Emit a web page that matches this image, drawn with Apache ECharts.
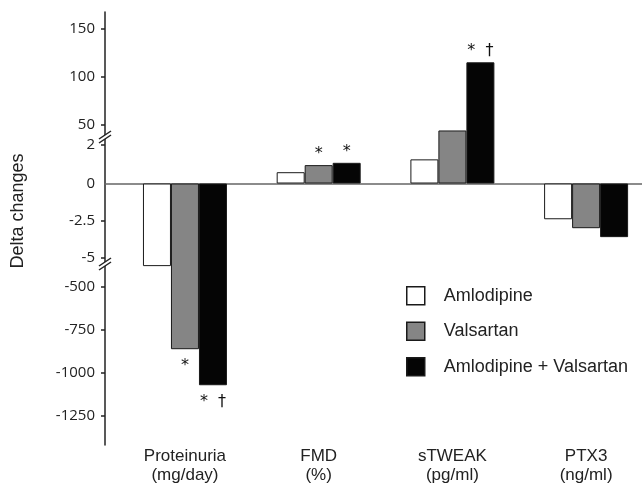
<!DOCTYPE html>
<html>
<head>
<meta charset="utf-8">
<script src="https://cdn.jsdelivr.net/npm/echarts@6/dist/echarts.min.js"></script>
<style>
html, body { margin: 0; padding: 0; background: #fff; }
#chart { width: 642px; height: 488px; }
</style>
</head>
<body>
<div id="chart"></div>
<script>
const categories = ['Proteinuria', 'FMD', 'sTWEAK', 'PTX3']
const units = ['(mg/day)', '(%)', '(pg/ml)', '(ng/ml)']
const seriesNames = ['Amlodipine', 'Valsartan', 'Amlodipine + Valsartan']
const amlodipine = [-380, 0.59, 1.26, -2.4]
const valsartan = [-862, 0.96, 44, -3.0]
const combination = [-1071, 1.08, 115, -3.6]
// significance marks under / over each bar
const amlodipineNotes = ['', '', '', '']
const valsartanNotes = ['*', '*', '', '']
const combinationNotes = ['*  \u2020', '*', '*  \u2020', '']
const yTicks = [150, 100, 50, 2, 0, -2.5, -5, -500, -750, -1000, -1250]

// broken y axis: every piece has its own scale, axis units = px from the zero line
function toAxis(v) {
  if (v > 3) return Math.max(46.5, 58.8 + (v - 50) * 0.96)
  if (v >= 0) return v * 19.15
  if (v >= -6) return v * 14.9
  return Math.min(-81.5, -103.3 + (v + 500) * 0.1724)
}
const tickPos = yTicks.map(toAxis)

const chart = echarts.init(document.getElementById('chart'))

function barSeries(name, values, notes, color) {
  return {
    name: name,
    type: 'bar',
    xAxisIndex: 0,
    barWidth: 28,
    barGap: '0%',
    itemStyle: { color: color, borderColor: '#1a1a1a', borderWidth: 1 },
    label: {
      fontFamily: 'DejaVu Sans',
      fontSize: 16,
      color: '#111'
    },
    data: values.map((v, i) => ({
      value: [i, toAxis(v)],
      label: {
        show: notes[i] !== '',
        formatter: notes[i],
        position: v < 0 ? 'bottom' : 'top',
        distance: v < 0 ? 9 : 3
      }
    }))
  }
}

chart.setOption({
  animation: false,
  grid: { left: 105, right: 0, top: 12, bottom: 43 },
  legend: {
    orient: 'vertical',
    left: 401,
    top: 281,
    itemWidth: 18,
    itemHeight: 18,
    itemGap: 16,
    icon: 'rect',
    data: seriesNames,
    itemStyle: { borderWidth: 1.5 },
    textStyle: {
      fontFamily: 'Liberation Sans',
      fontSize: 18,
      color: '#222',
      padding: [0, 0, 0, 14]
    }
  },
  xAxis: [
    {
      type: 'value',
      min: -0.598,
      max: 3.418,
      axisLine: { onZero: true, lineStyle: { color: '#666', width: 1.5 } },
      axisTick: { show: false },
      axisLabel: { show: false },
      splitLine: { show: false }
    },
    {
      type: 'value',
      min: -0.598,
      max: 3.418,
      position: 'bottom',
      axisLine: { show: false, onZero: false },
      axisTick: { show: false },
      splitLine: { show: false },
      axisLabel: {
        customValues: [0, 1, 2, 3],
        formatter: v => categories[v] + '\n' + units[v],
        fontFamily: 'Liberation Sans',
        fontSize: 17,
        lineHeight: 19,
        color: '#222',
        margin: 2
      }
    }
  ],
  yAxis: {
    type: 'value',
    min: -261.5,
    max: 171.5,
    axisLine: { show: true, onZero: false, lineStyle: { color: '#222', width: 1.5 } },
    axisTick: {
      show: true,
      length: 4,
      customValues: tickPos.filter((p, i) => yTicks[i] !== 0),
      lineStyle: { color: '#222', width: 1.5 }
    },
    splitLine: { show: false },
    axisLabel: {
      customValues: tickPos,
      formatter: val => {
        const i = tickPos.findIndex(p => Math.abs(p - val) < 0.01)
        return i >= 0 ? String(yTicks[i]) : ''
      },
      fontFamily: 'Open Sans',
      fontSize: 15,
      color: '#222',
      margin: 10
    }
  },
  graphic: [
    {
      type: 'text',
      x: 18,
      y: 211,
      rotation: Math.PI / 2,
      style: {
        text: 'Delta changes',
        font: '18px "Liberation Sans"',
        fill: '#222',
        align: 'center',
        verticalAlign: 'middle'
      }
    },
    // axis break marks
    { type: 'polygon', z: 100, shape: { points: [[99, 139], [111, 131], [111, 135], [99, 143]] }, style: { fill: '#fff' } },
    { type: 'line', z: 101, shape: { x1: 99, y1: 139, x2: 111, y2: 131 }, style: { stroke: '#222', lineWidth: 1.5 } },
    { type: 'line', z: 101, shape: { x1: 99, y1: 143, x2: 111, y2: 135 }, style: { stroke: '#222', lineWidth: 1.5 } },
    { type: 'polygon', z: 100, shape: { points: [[99, 266], [111, 258], [111, 262], [99, 270]] }, style: { fill: '#fff' } },
    { type: 'line', z: 101, shape: { x1: 99, y1: 266, x2: 111, y2: 258 }, style: { stroke: '#222', lineWidth: 1.5 } },
    { type: 'line', z: 101, shape: { x1: 99, y1: 270, x2: 111, y2: 262 }, style: { stroke: '#222', lineWidth: 1.5 } }
  ],
  series: [
    barSeries(seriesNames[0], amlodipine, amlodipineNotes, '#ffffff'),
    barSeries(seriesNames[1], valsartan, valsartanNotes, '#858585'),
    barSeries(seriesNames[2], combination, combinationNotes, '#050505')
  ]
})
</script>
</body>
</html>
